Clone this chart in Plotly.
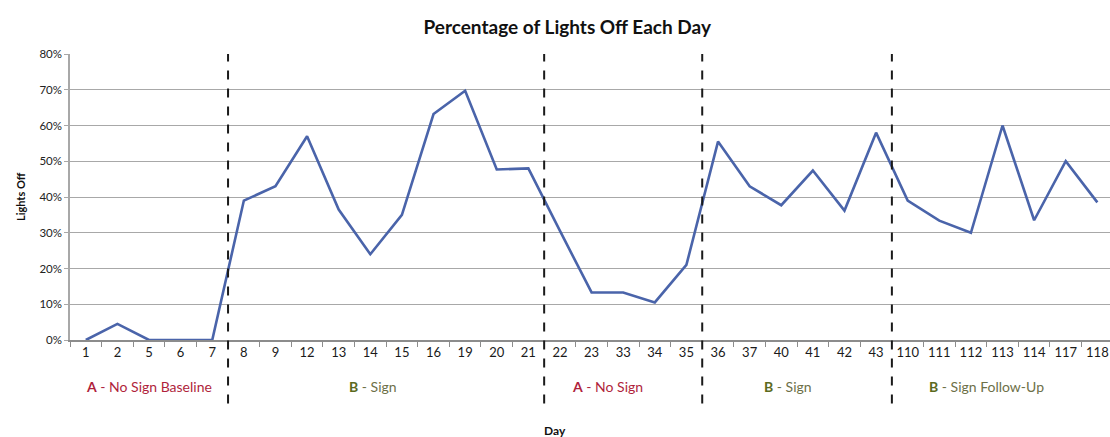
import plotly.graph_objects as go

days = ["1", "2", "5", "6", "7", "8", "9", "12", "13", "14", "15", "16", "19", "20", "21",
        "22", "23", "33", "34", "35", "36", "37", "40", "41", "42", "43",
        "110", "111", "112", "113", "114", "117", "118"]
lights_off = [0.0, 0.045, 0.0, 0.0, 0.0, 0.39, 0.43, 0.57, 0.365, 0.24, 0.35, 0.632, 0.697, 0.477, 0.48,
              0.305, 0.133, 0.133, 0.105, 0.21, 0.555, 0.43, 0.377, 0.474, 0.362, 0.58,
              0.39, 0.334, 0.30, 0.60, 0.335, 0.50, 0.385]

phase_breaks = [4.5, 14.5, 19.5, 25.5]
phase_labels = [
    "<span style='color:#b01f3c'><b>A</b> - No Sign Baseline</span>",
    "<span style='color:#5c6a1e'><b>B</b></span><span style='color:#6d7048'> - Sign</span>",
    "<span style='color:#b01f3c'><b>A</b> - No Sign</span>",
    "<span style='color:#5c6a1e'><b>B</b></span><span style='color:#6d7048'> - Sign</span>",
    "<span style='color:#5c6a1e'><b>B</b></span><span style='color:#6d7048'> - Sign Follow-Up</span>",
]
phase_label_pos = [2.0, 9.1, 16.5, 22.2, 28.5]

FONT = "Lato, 'Open Sans', sans-serif"

fig = go.Figure()
fig.add_trace(go.Scatter(
    x=days, y=lights_off, mode="lines",
    line=dict(color="#4a64aa", width=2.6),
    hoverinfo="x+y", showlegend=False,
))

shapes = []
for b in phase_breaks:
    shapes.append(dict(type="line", xref="x", yref="paper", x0=b, x1=b, y0=-0.222, y1=1.0,
                       line=dict(color="#1a1a1a", width=2, dash="dash")))

annotations = []
for txt, pos in zip(phase_labels, phase_label_pos):
    annotations.append(dict(text=txt, x=pos, xref="x", y=-0.164, yref="paper",
                            showarrow=False, xanchor="center", yanchor="middle",
                            font=dict(family=FONT, size=14)))
annotations.append(dict(text="<b>Lights Off</b>", x=-0.048, xref="paper", y=0.5, yref="paper",
                        textangle=-90, showarrow=False, xanchor="center", yanchor="middle",
                        font=dict(family=FONT, size=11, color="#111")))
annotations.append(dict(text="<b>Day</b>", x=0.466, xref="paper", y=-0.315, yref="paper",
                        showarrow=False, xanchor="center", yanchor="middle",
                        font=dict(family=FONT, size=12, color="#111")))

fig.update_layout(
    width=1110, height=437,
    margin=dict(l=70, r=0, t=54, b=97, autoexpand=False),
    paper_bgcolor="white", plot_bgcolor="white",
    title=dict(text="<b>Percentage of Lights Off Each Day</b>", x=0.511, xanchor="center",
               y=0.938, yanchor="middle", font=dict(family=FONT, size=19, color="#111")),
    shapes=shapes, annotations=annotations,
    font=dict(family=FONT),
)
fig.update_xaxes(
    type="category", range=[-0.5, 32.4],
    showgrid=False, showline=True, linecolor="#8c8c8c", linewidth=1.5,
    ticks="outside", tickson="boundaries", ticklen=5, tickcolor="#8c8c8c",
    tickangle=0,
    tickfont=dict(family=FONT, size=13, color="#1a1a1a"),
    zeroline=False,
)
fig.update_yaxes(
    range=[0, 0.8], dtick=0.1, tickformat=".0%",
    showgrid=True, gridcolor="#a8a8a8", gridwidth=1.4,
    showline=True, linecolor="#a8a8a8", linewidth=1.5,
    ticks="outside", ticklen=4, tickcolor="#a8a8a8",
    tickfont=dict(family=FONT, size=11.5, color="#222"),
    zeroline=False,
)

fig.write_html(
    "out.html",
    config={"displayModeBar": False},
    post_script="document.body.style.margin='0';document.body.style.overflow='hidden';",
)
